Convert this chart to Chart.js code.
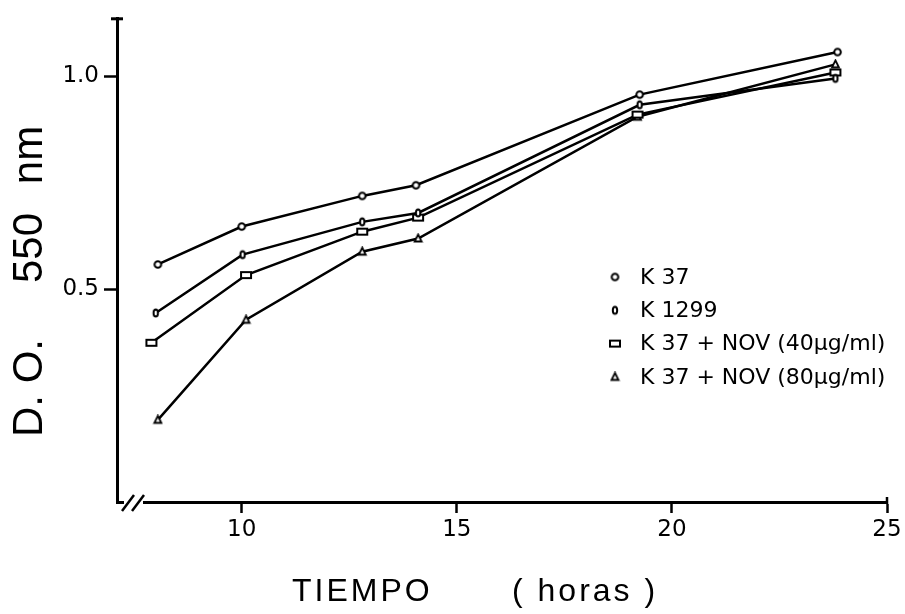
<!DOCTYPE html>
<html>
<head>
<meta charset="utf-8">
<script src="https://cdn.jsdelivr.net/npm/chart.js@4/dist/chart.umd.min.js"></script>
<style>
    body { margin: 0; background: #fff; }
    #wrap { width: 905px; height: 614px; }
</style>
</head>
<body>
<div id="wrap"><canvas id="growthChart" width="905" height="614"></canvas></div>
<script>
// series labels
var seriesNames = ['K 37', 'K 1299', 'K 37 + NOV (40\u00b5g/ml)', 'K 37 + NOV (80\u00b5g/ml)'];

// tiempo (horas) for each series
var k37Hours = [8.05, 10.0, 12.8, 14.05, 19.25, 23.85];
var k1299Hours = [8.0, 10.02, 12.8, 14.1, 19.25, 23.8];
var nov40Hours = [7.9, 10.1, 12.8, 14.1, 19.2, 23.8];
var nov80Hours = [8.05, 10.1, 12.8, 14.1, 19.2, 23.8];

// D.O. 550 nm
var k37Values = [0.558, 0.647, 0.719, 0.744, 0.957, 1.057];
var k1299Values = [0.444, 0.581, 0.658, 0.679, 0.933, 0.995];
var nov40Values = [0.374, 0.533, 0.635, 0.668, 0.910, 1.009];
var nov80Values = [0.193, 0.428, 0.588, 0.619, 0.905, 1.028];

// axis ticks
var xTicks = [10, 15, 20, 25];
var yTicks = [0.5, 1.0];

var toPoints = function (xs, ys) {
    var pts = [];
    for (var i = 0; i < xs.length; i++) {
        pts.push({ x: xs[i], y: ys[i] });
    }
    return pts;
};

// small hand-drawn looking markers
var makeMarker = function (kind) {
    var c = document.createElement('canvas');
    var ctx;
    if (kind === 'rect') {
        c.width = 14; c.height = 10;
    } else if (kind === 'ellipse') {
        c.width = 10; c.height = 12;
    } else {
        c.width = 11; c.height = 11;
    }
    ctx = c.getContext('2d');
    ctx.fillStyle = '#fff';
    ctx.strokeStyle = '#000';
    ctx.lineWidth = 2;
    ctx.beginPath();
    if (kind === 'circle') {
        ctx.arc(5.5, 5.5, 3.3, 0, Math.PI * 2);
    } else if (kind === 'ellipse') {
        ctx.ellipse(5, 6, 2.2, 3.6, 0, 0, Math.PI * 2);
    } else if (kind === 'rect') {
        ctx.rect(2, 2, 10, 6);
    } else {
        ctx.lineWidth = 1.8;
        ctx.moveTo(5.5, 1.5);
        ctx.lineTo(9, 8.5);
        ctx.lineTo(2, 8.5);
        ctx.closePath();
    }
    ctx.fill();
    ctx.stroke();
    return c;
};

var markers = [makeMarker('circle'), makeMarker('ellipse'), makeMarker('rect'), makeMarker('triangle')];

var lineSet = function (idx, pts) {
    return {
        label: seriesNames[idx],
        data: pts,
        borderColor: '#000',
        borderWidth: 2.5,
        pointStyle: markers[idx],
        pointBackgroundColor: '#fff',
        pointBorderColor: '#000',
        fill: false,
        tension: 0
    };
};

var decorations = {
    id: 'decorations',
    afterDraw: function (chart) {
        var ctx = chart.ctx;
        var area = chart.chartArea;
        var i, y;
        ctx.save();
        ctx.strokeStyle = '#000';
        ctx.fillStyle = '#000';

        // cap on top of y axis
        ctx.lineWidth = 3;
        ctx.beginPath();
        ctx.moveTo(area.left - 6, area.top);
        ctx.lineTo(area.left + 6, area.top);
        ctx.stroke();

        // short cap at right end of x axis
        ctx.lineWidth = 2.5;
        ctx.beginPath();
        ctx.moveTo(area.right, area.bottom - 5);
        ctx.lineTo(area.right, area.bottom + 2);
        ctx.stroke();

        // axis break marks
        ctx.fillStyle = '#fff';
        ctx.fillRect(area.left + 7, area.bottom - 3, 19, 6);
        ctx.lineWidth = 2.5;
        ctx.beginPath();
        ctx.moveTo(area.left + 5, area.bottom + 9);
        ctx.lineTo(area.left + 17, area.bottom - 7);
        ctx.moveTo(area.left + 15, area.bottom + 9);
        ctx.lineTo(area.left + 27, area.bottom - 7);
        ctx.stroke();

        // legend
        ctx.fillStyle = '#000';
        ctx.font = '22px "DejaVu Sans", sans-serif';
        ctx.textAlign = 'left';
        ctx.textBaseline = 'middle';
        for (i = 0; i < seriesNames.length; i++) {
            y = 277 + i * 33.3;
            ctx.drawImage(markers[i], 615 - markers[i].width / 2, y - markers[i].height / 2);
            ctx.fillText(seriesNames[i], 640, y + 1);
        }

        // y axis title, rotated
        ctx.font = '42px "Liberation Sans", Arial, sans-serif';
        ctx.textAlign = 'center';
        ctx.textBaseline = 'alphabetic';
        var yParts = [['nm', 155], ['550', 248], ['D. O.', 388]];
        for (i = 0; i < yParts.length; i++) {
            ctx.save();
            ctx.translate(42, yParts[i][1]);
            ctx.rotate(-Math.PI / 2);
            ctx.fillText(yParts[i][0], 0, 0);
            ctx.restore();
        }

        // x axis title
        ctx.font = '32px "Liberation Sans", Arial, sans-serif';
        ctx.textAlign = 'left';
        ctx.letterSpacing = '3px';
        ctx.fillText('TIEMPO', 292, 601);
        ctx.fillText('( horas )', 512, 601);
        ctx.restore();
    }
};

new Chart(document.getElementById('growthChart'), {
    type: 'line',
    data: {
        datasets: [
            lineSet(0, toPoints(k37Hours, k37Values)),
            lineSet(1, toPoints(k1299Hours, k1299Values)),
            lineSet(2, toPoints(nov40Hours, nov40Values)),
            lineSet(3, toPoints(nov80Hours, nov80Values))
        ]
    },
    options: {
        responsive: false,
        animation: false,
        devicePixelRatio: 1,
        layout: { padding: { top: 14, right: 18, left: 0, bottom: 0 } },
        plugins: {
            legend: { display: false },
            tooltip: { enabled: false }
        },
        scales: {
            x: {
                type: 'linear',
                min: 7.1,
                max: 25,
                afterFit: function (scale) { scale.height = 112; },
                afterBuildTicks: function (scale) {
                    scale.ticks = xTicks.map(function (v) { return { value: v }; });
                },
                grid: {
                    drawOnChartArea: false,
                    drawTicks: true,
                    tickLength: 11,
                    tickColor: '#000',
                    tickWidth: 2.5
                },
                border: { display: true, color: '#000', width: 3 },
                ticks: {
                    color: '#000',
                    padding: 3,
                    maxRotation: 0,
                    font: { family: 'DejaVu Sans', size: 23 },
                    callback: function (v) { return String(v); }
                }
            },
            y: {
                type: 'linear',
                min: 0,
                max: 1.135,
                afterFit: function (scale) { scale.width = 117; },
                afterBuildTicks: function (scale) {
                    scale.ticks = yTicks.map(function (v) { return { value: v }; });
                },
                grid: {
                    drawOnChartArea: false,
                    drawTicks: true,
                    tickLength: 13,
                    tickColor: '#000',
                    tickWidth: 2.5
                },
                border: { display: true, color: '#000', width: 3 },
                ticks: {
                    color: '#000',
                    padding: 5,
                    font: { family: 'DejaVu Sans', size: 23 },
                    callback: function (v) { return v.toFixed(1); }
                }
            }
        }
    },
    plugins: [decorations]
});
</script>
</body>
</html>
